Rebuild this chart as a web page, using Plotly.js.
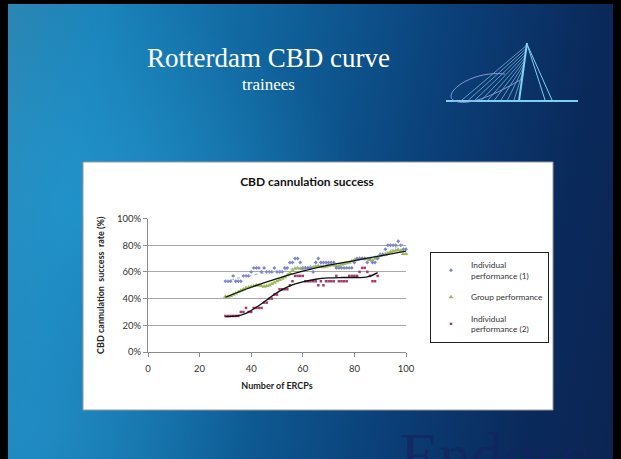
<!DOCTYPE html>
<html>
<head>
<meta charset="utf-8">
<script src="https://cdn.plot.ly/plotly-3.0.1.min.js"></script>
<style>
  html, body { margin:0; padding:0; width:621px; height:459px; overflow:hidden; background:#000; }
  #bg { position:absolute; left:8px; top:4px; width:605px; height:455px;
        background:
          radial-gradient(ellipse 260px 200px at 90px 200px, rgba(40,160,215,0.55), rgba(40,160,215,0) 100%),
          radial-gradient(ellipse 200px 160px at 40px 420px, rgba(40,150,205,0.45), rgba(40,150,205,0) 100%),
          linear-gradient(100deg, #2b86b3 0%, #1a84bb 14%, #0f5f98 42%, #0b3f78 66%, #0a2a5c 86%, #0b2452 100%); }
  #chart { position:absolute; left:0; top:0; width:621px; height:459px; }
  #frame { position:absolute; left:0; top:0; width:605px; height:455px; pointer-events:none;
           border-left:8px solid #000; border-right:8px solid #000; border-top:4px solid #000; }
</style>
</head>
<body>
<div id="bg"></div>
<div id="chart"></div>
<div id="frame"></div>
<script>
// ---- data ----
const ercps = [30,31,32,33,34,35,36,37,38,39,40,41,42,43,44,45,46,47,48,49,
               50,51,52,53,54,55,56,57,58,59,60,61,62,63,64,65,66,67,68,69,
               70,71,72,73,74,75,76,77,78,79,80,81,82,83,84,85,86,87,88,89,
               90,91,92,93,94,95,96,97,98,99,100];
const individual1 = [53,53,53,57,53,53,53,57,57,57,60,63,63,63,60,63,60,60,60,63,
                     60,60,60,63,63,67,67,70,70,67,63,63,63,63,60,67,70,67,67,67,
                     67,67,67,63,63,63,63,63,63,63,67,70,70,70,70,67,70,67,67,70,
                     73,73,77,80,80,80,80,83,80,77,77];
const groupPerf = [41.5,41.5,42,43,44,45,46,47,48,48.5,49,49.5,50,50,49.5,49,49.5,50,51,52,
                   53,54,55,56,57.5,59,61,62.5,63,62.5,62.5,63,63,63.5,63.5,64,64.5,64,63.5,64,
                   64.5,65,65,64.5,64.5,65.5,66,66.5,67,68,69,69.5,70,70,70,69.5,69,68.5,70,71,
                   72,72.5,73,74,75,75.5,76,76.5,76,73.5,73.5];
const ercps2 = [30,31,32,33,34,35,36,37,38,39,40,41,42,43,44,45,46,47,48,49,
                50,51,52,53,54,55,56,57,58,59,60,61,62,63,64,65,66,67,68,69,
                70,71,72,73,74,75,76,77,78,79,80,81,82,83,84,85,86,87,88,89];
const individual2 = [27,27,27,27,27,27,30,30,33,30,30,33,33,33,33,37,37,40,40,43,
                     43,47,47,47,47,50,53,57,57,57,57,53,53,53,53,53,50,53,50,53,
                     53,53,53,57,53,53,53,53,57,57,57,57,60,63,63,60,57,53,53,57];
// trend lines
const trendX = [30,40,50,60,70,80,90,100];
const trendGroup = [41,48.5,55,60.5,65,68.5,72,75.5];
const trendInd1 = [53,57.5,60.5,63.5,65.5,68,73,82];
const trendX2 = [30,34,38,42,46,50,55,60,65,70,75,80,85,89];
const trendInd2 = [26.5,26.8,29,33.5,39,44.5,49.5,52.5,54.5,55.5,55.8,55.8,56.2,59.5];
const xTicks = [0,20,40,60,80,100];
const yTicks = [0,0.2,0.4,0.6,0.8,1.0];

const pct = a => a.map(v => v/100);
const FONT = 'Lato, "Liberation Sans", sans-serif';

const traces = [
  { x: ercps, y: pct(groupPerf), name: 'Group performance', type:'scatter', mode:'markers',
    legendrank: 2, legendgroup:'g2',
    marker:{symbol:'triangle-up', size:4.5, color:'#9BBB59'}, cliponaxis:false },
  { x: ercps, y: pct(individual1), name: 'Individual<br>performance (1)', type:'scatter', mode:'markers',
    legendrank: 1, legendgroup:'g1',
    marker:{symbol:'diamond', size:3, color:'#7d86c6'}, cliponaxis:false },
  { x: ercps2, y: pct(individual2), name: 'Individual<br>performance (2)', type:'scatter', mode:'markers',
    legendrank: 3, legendgroup:'g3',
    marker:{symbol:'square', size:2.5, color:'#a33b6b'}, cliponaxis:false },
  { x: trendX, y: pct(trendInd1), type:'scatter', mode:'lines', showlegend:false, hoverinfo:'skip',
    line:{color:'#9fb3e6', width:1, shape:'spline', dash:'dot'} },
  { x: trendX, y: pct(trendGroup), type:'scatter', mode:'lines', showlegend:false, hoverinfo:'skip',
    line:{color:'#111', width:1.3, shape:'spline'} },
  { x: trendX2, y: pct(trendInd2), type:'scatter', mode:'lines', showlegend:false, hoverinfo:'skip',
    line:{color:'#111', width:1.3, shape:'spline'} }
];

const W = 621, H = 459;
const px = v => v / W, py = v => 1 - v / H;
const lineShape = (x0,y0,x1,y1,c,w) => ({type:'line', xref:'paper', yref:'paper',
  x0:px(x0), y0:py(y0), x1:px(x1), y1:py(y1), line:{color:c, width:w}});

const shapes = [
  {type:'rect', xref:'paper', yref:'paper', layer:'below',
   x0:px(83), x1:px(553), y0:py(410), y1:py(162),
   fillcolor:'#ffffff', line:{color:'#9a9a9a', width:1}}
];
// logo (bridge) decoration
const logoC = '#7fd0f0';
shapes.push(lineShape(446,101,578,101,logoC,2));
shapes.push(lineShape(527,43,519,101,logoC,2));
for (let i = 0; i < 9; i++) {
  shapes.push(lineShape(527 - i*0.4, 45 + i*3, 462 + i*6.5, 100, 'rgba(140,215,245,0.8)', 0.8));
}
shapes.push(lineShape(527,44,545,100,logoC,1));
shapes.push(lineShape(527,44,552,100,logoC,1));
shapes.push({type:'path', xref:'paper', yref:'paper',
  path:`M ${px(505)} ${py(74)} C ${px(470)} ${py(70)}, ${px(440)} ${py(95)}, ${px(455)} ${py(101)} S ${px(500)} ${py(92)}, ${px(520)} ${py(80)}`,
  line:{color:'rgba(150,160,220,0.9)', width:1}});

const layout = {
  width: W, height: H,
  margin:{l:0,r:0,t:0,b:0},
  paper_bgcolor:'rgba(0,0,0,0)', plot_bgcolor:'rgba(0,0,0,0)',
  font:{family:FONT, size:9, color:'#333'},
  showlegend:true,
  title:{text:'<b>CBD cannulation success</b>', x:px(307), xanchor:'center',
         y:py(182), yanchor:'middle', font:{family:FONT, size:12, color:'#111'}},
  xaxis:{domain:[px(148), px(406)], range:[0,100], tickvals:xTicks,
         ticks:'outside', ticklen:4, tickcolor:'#8c8c8c', showline:true, linecolor:'#8c8c8c',
         showgrid:false, zeroline:false, tickfont:{size:9.5, color:'#333'}, ticklabelstandoff:4,
         title:{text:'<b>Number of ERCPs</b>', standoff:9, font:{size:9, color:'#222'}}},
  yaxis:{domain:[py(352), py(218.5)], range:[0,1], tickvals:yTicks, tickformat:'.0%',
         ticks:'outside', ticklen:4, tickcolor:'#8c8c8c', showline:true, linecolor:'#8c8c8c',
         showgrid:true, gridcolor:'#a8a8a8', gridwidth:1, zeroline:false,
         tickfont:{size:9.5, color:'#333'},
         title:{text:'<b>CBD cannulation  success  rate (%)</b>', standoff:10, font:{size:9, color:'#222'}}},
  legend:{x:px(430), xanchor:'left', y:py(252), yanchor:'top',
          bgcolor:'#ffffff', bordercolor:'#222', borderwidth:1,
          font:{size:8.3, color:'#333'}, tracegroupgap:5, itemwidth:30},
  shapes: shapes,
  annotations:[
    {text:'Rotterdam CBD curve', xref:'paper', yref:'paper', x:px(268), y:py(58),
     xanchor:'center', yanchor:'middle', showarrow:false,
     font:{family:'"Liberation Serif", "DejaVu Serif", serif', size:27, color:'#ffffff'}},
    {text:'trainees', xref:'paper', yref:'paper', x:px(268), y:py(84),
     xanchor:'center', yanchor:'middle', showarrow:false,
     font:{family:'"Liberation Serif", "DejaVu Serif", serif', size:17, color:'#ffffff'}},
    {text:'Endosc', xref:'paper', yref:'paper', x:px(398), y:py(418),
     xanchor:'left', yanchor:'top', showarrow:false,
     font:{family:'"Liberation Serif", "DejaVu Serif", serif', size:64, color:'rgba(20,35,95,0.7)'}}
  ]
};

Plotly.newPlot('chart', traces, layout, {displayModeBar:false, staticPlot:true});
</script>
</body>
</html>
